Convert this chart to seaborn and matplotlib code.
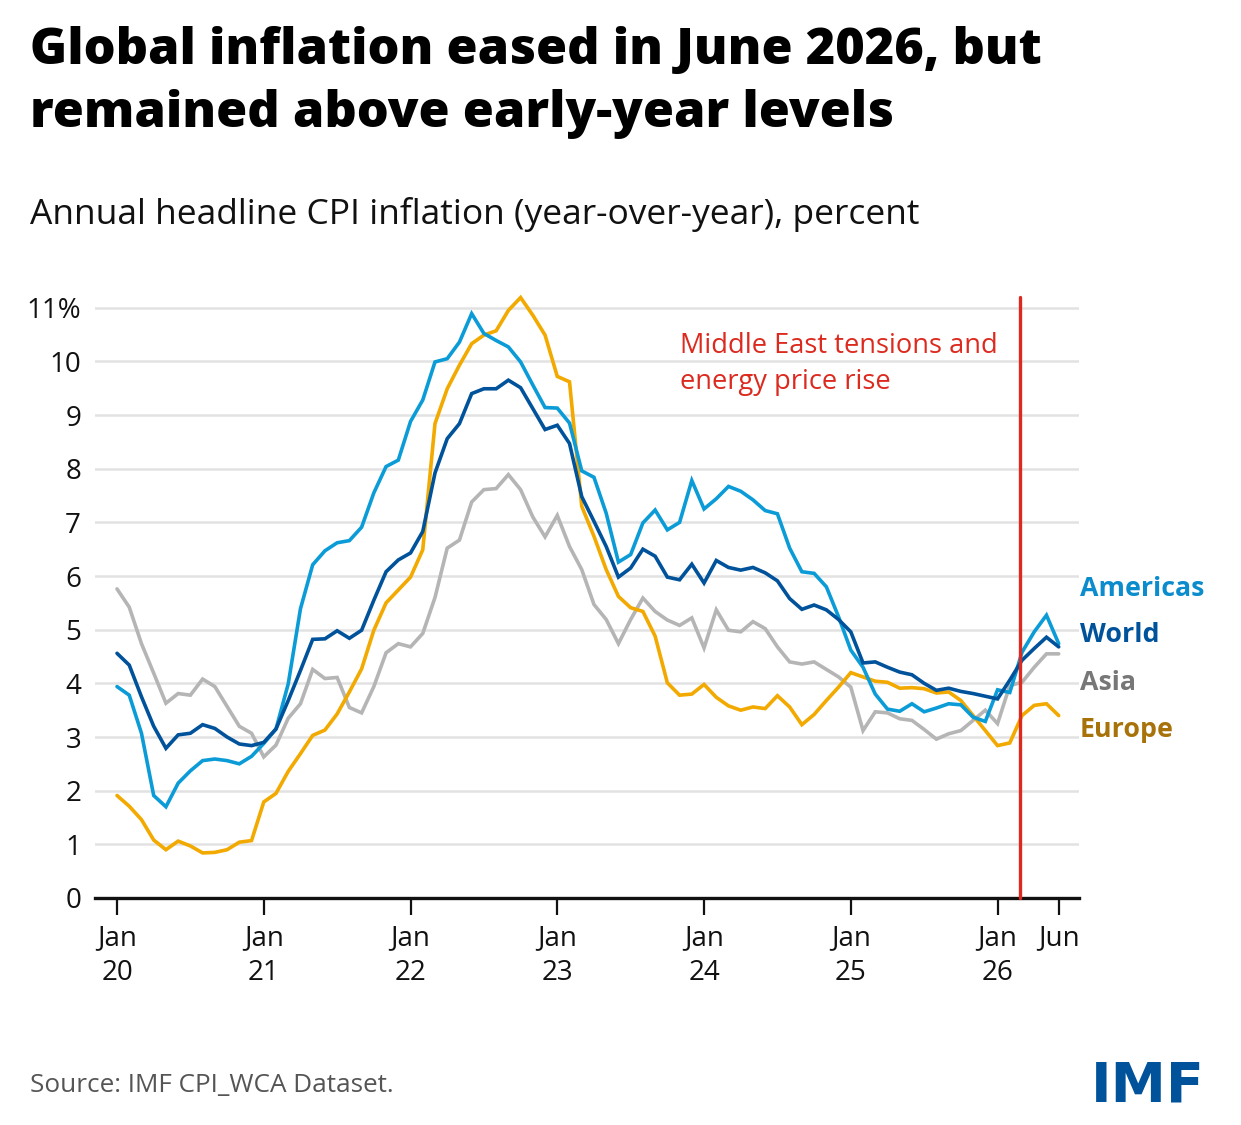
import numpy as np
import pandas as pd
import matplotlib
matplotlib.use("Agg")
import matplotlib.pyplot as plt
import seaborn as sns

# ---------------- data ----------------
months = pd.date_range("2020-01-01", "2026-06-01", freq="MS")  # 78 months

americas = [3.94, 3.78, 3.07, 1.91, 1.70, 2.14, 2.37, 2.56, 2.59, 2.56, 2.50, 2.64,
            2.88, 3.15, 3.99, 5.39, 6.21, 6.47, 6.62, 6.66, 6.91, 7.55, 8.04, 8.16,
            8.88, 9.28, 9.99, 10.05, 10.36, 10.89, 10.52, 10.39, 10.27, 9.99, 9.56, 9.14,
            9.13, 8.85, 7.96, 7.84, 7.17, 6.26, 6.40, 6.99, 7.23, 6.86, 7.00, 7.78,
            7.25, 7.44, 7.67, 7.58, 7.42, 7.22, 7.16, 6.52, 6.08, 6.05, 5.80, 5.24,
            4.62, 4.30, 3.80, 3.52, 3.48, 3.62, 3.47, 3.54, 3.62, 3.60, 3.37, 3.29,
            3.88, 3.83, 4.58, 4.96, 5.27, 4.74]

world = [4.56, 4.34, 3.75, 3.20, 2.79, 3.04, 3.07, 3.23, 3.16, 3.00, 2.87, 2.84,
         2.90, 3.15, 3.68, 4.24, 4.82, 4.83, 4.98, 4.84, 4.99, 5.55, 6.08, 6.30,
         6.43, 6.83, 7.92, 8.56, 8.84, 9.40, 9.49, 9.49, 9.65, 9.51, 9.12, 8.73,
         8.81, 8.47, 7.48, 7.02, 6.55, 5.98, 6.15, 6.50, 6.37, 5.98, 5.93, 6.22,
         5.87, 6.29, 6.16, 6.11, 6.16, 6.06, 5.91, 5.58, 5.38, 5.46, 5.37, 5.19,
         4.96, 4.38, 4.40, 4.30, 4.21, 4.16, 4.00, 3.87, 3.91, 3.85, 3.81, 3.76,
         3.71, 4.06, 4.43, 4.65, 4.86, 4.68]

asia = [5.76, 5.42, 4.74, 4.19, 3.63, 3.81, 3.78, 4.08, 3.94, 3.57, 3.20, 3.07,
        2.63, 2.85, 3.35, 3.62, 4.26, 4.09, 4.11, 3.55, 3.45, 3.94, 4.57, 4.74,
        4.68, 4.93, 5.60, 6.52, 6.67, 7.38, 7.61, 7.63, 7.89, 7.61, 7.10, 6.73,
        7.13, 6.55, 6.12, 5.47, 5.19, 4.74, 5.19, 5.59, 5.34, 5.18, 5.08, 5.22,
        4.66, 5.37, 4.99, 4.96, 5.15, 5.02, 4.68, 4.40, 4.36, 4.40, 4.26, 4.12,
        3.93, 3.12, 3.47, 3.45, 3.34, 3.31, 3.14, 2.96, 3.06, 3.12, 3.31, 3.50,
        3.25, 3.96, 4.02, 4.30, 4.55, 4.55]

europe = [1.91, 1.71, 1.46, 1.08, 0.90, 1.06, 0.97, 0.84, 0.85, 0.90, 1.04, 1.07,
          1.79, 1.95, 2.36, 2.69, 3.03, 3.13, 3.43, 3.84, 4.27, 4.99, 5.50, 5.74,
          5.98, 6.49, 8.84, 9.49, 9.93, 10.33, 10.49, 10.57, 10.95, 11.19, 10.86, 10.49,
          9.72, 9.62, 7.30, 6.74, 6.12, 5.62, 5.41, 5.34, 4.88, 4.01, 3.78, 3.80,
          3.98, 3.74, 3.58, 3.50, 3.56, 3.53, 3.77, 3.56, 3.23, 3.42, 3.68, 3.93,
          4.20, 4.12, 4.04, 4.02, 3.91, 3.92, 3.90, 3.82, 3.84, 3.68, 3.40, 3.12,
          2.84, 2.89, 3.40, 3.59, 3.62, 3.40]

regions = ["Americas", "World", "Asia", "Europe"]
x_tick_dates = ["2020-01", "2021-01", "2022-01", "2023-01", "2024-01", "2025-01", "2026-01", "2026-06"]
x_tick_labels = ["Jan\n20", "Jan\n21", "Jan\n22", "Jan\n23", "Jan\n24", "Jan\n25", "Jan\n26", "Jun"]
y_ticks = list(range(0, 12))
y_tick_labels = [str(v) for v in range(0, 11)] + ["11%"]
event_month = 73.8  # late Feb 2026
event_text = "Middle East tensions and\nenergy price rise"
title_lines = ["Global inflation eased in June 2026, but", "remained above early-year levels"]
subtitle = "Annual headline CPI inflation (year-over-year), percent"
source = "Source: IMF CPI_WCA Dataset."

# ---------------- styling ----------------
line_colors = {"Americas": "#0b9cd8", "World": "#00529b", "Asia": "#b5b5b5", "Europe": "#f2a900"}
label_colors = {"Americas": "#0b8ccc", "World": "#00529b", "Asia": "#777777", "Europe": "#a8720a"}
label_baselines = {"Americas": 5.63, "World": 4.77, "Asia": 3.88, "Europe": 3.0}

sns.set_theme(style="white")
plt.rcParams["font.family"] = ["Open Sans", "DejaVu Sans"]

idx = np.arange(len(months))
df = pd.concat([
    pd.DataFrame({"idx": idx, "value": vals, "region": name})
    for name, vals in zip(regions, [americas, world, asia, europe])
], ignore_index=True)

W, H = 1241, 1125
fig = plt.figure(figsize=(W / 100, H / 100), dpi=100)
fig.patch.set_facecolor("white")

left, right, bottom_px, top_px = 95, 1079, 898, 297
ax = fig.add_axes([left / W, 1 - bottom_px / H, (right - left) / W, (bottom_px - top_px) / H])

sns.lineplot(data=df, x="idx", y="value", hue="region",
             hue_order=["Asia", "Europe", "Americas", "World"],
             palette=line_colors, linewidth=2.6, legend=False, ax=ax, sort=False)
for l in ax.get_lines():
    l.set_clip_on(False)
    l.set_solid_joinstyle("miter")

ax.set_xlim(-1.8, 78.66)
ax.set_ylim(0, 11.2)

ax.set_yticks(y_ticks)
ax.set_yticklabels(y_tick_labels)
ax.grid(axis="y", color="#e2e2e2", linewidth=1.8, zorder=0)
ax.grid(axis="x", visible=False)
ax.set_axisbelow(True)

tick_pos = [months.get_loc(pd.Timestamp(d)) for d in x_tick_dates]
ax.set_xticks(tick_pos)
ax.set_xticklabels(x_tick_labels, linespacing=1.3)

ax.tick_params(axis="y", length=0, pad=10, labelsize=20, labelcolor="#111111")
ax.tick_params(axis="x", length=12, width=1.6, color="#111111", pad=7,
               labelsize=20, labelcolor="#111111", direction="out", bottom=True)
for s in ["top", "right", "left"]:
    ax.spines[s].set_visible(False)
ax.spines["bottom"].set_color("#111111")
ax.spines["bottom"].set_linewidth(2.4)
ax.spines["bottom"].set_zorder(5)
ax.set_xlabel("")
ax.set_ylabel("")

ax.axvline(event_month, color="#dc2a1f", linewidth=2.4, zorder=6, clip_on=False)
ax.text((680 - 117) / 12.23, 9.49, event_text, color="#dc2a1f", fontsize=19.6,
        ha="left", va="baseline", linespacing=1.38)

for name in regions:
    ax.text(78.74, label_baselines[name], name, color=label_colors[name], fontsize=19.3,
            fontweight="bold", ha="left", va="baseline", clip_on=False)

fig.text(30 / W, 1 - 64 / H, title_lines[0], fontsize=36.3, fontweight="heavy",
         color="black", ha="left", va="baseline")
fig.text(30 / W, 1 - 127 / H, title_lines[1], fontsize=36.3, fontweight="heavy",
         color="black", ha="left", va="baseline")
fig.text(30 / W, 1 - 224 / H, subtitle, fontsize=25.5, color="#111111",
         ha="left", va="baseline")
fig.text(30 / W, 1 - 1092 / H, source, fontsize=18.8, color="#555555",
         ha="left", va="baseline")
fig.text(1205 / W, 1 - 1102 / H, "IMF", fontsize=40, fontweight="bold",
         color="#00529b", ha="right", va="baseline",
         family=["Liberation Sans Narrow", "DejaVu Sans"])

fig.savefig("out.png", dpi=100, facecolor="white")
